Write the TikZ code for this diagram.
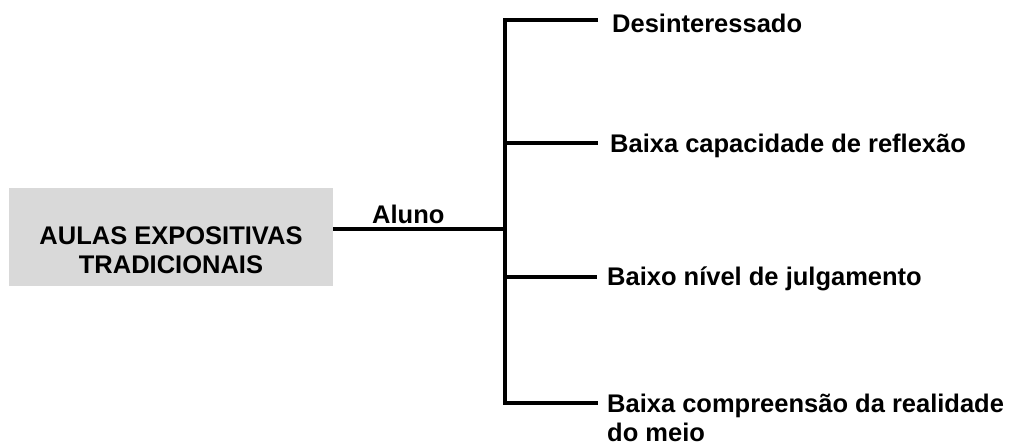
\documentclass[tikz,border=0pt]{standalone}
\usepackage{fontspec}
\setmainfont{Liberation Sans}
\definecolor{boxgray}{HTML}{D9D9D9}
\begin{document}
\begin{tikzpicture}[x=1pt,y=-1pt,
  conn/.style={line width=4.5pt, black},
  txt/.style={inner sep=0pt, font=\fontsize{25.5}{29}\selectfont\bfseries},
  lbl/.style={txt, anchor=base west},
  boxstyle/.style={fill=boxgray, draw=none, minimum width=324pt, minimum height=98pt, inner sep=0pt, anchor=north west}]
\useasboundingbox (0,0) rectangle (1029,445);
\node[boxstyle] (box) at (9,188) {};
\node[txt, align=center] (boxtext) at (171,250) {AULAS EXPOSITIVAS\\TRADICIONAIS};
\node[lbl] (aluno) at (372,223) {Aluno};
\node[lbl] (n1) at (612,32) {Desinteressado};
\node[lbl] (n2) at (610,152) {Baixa capacidade de reflexão};
\node[lbl] (n3) at (607,285) {Baixo nível de julgamento};
\node[lbl, align=left] (n4) at (607,441) {Baixa compreensão da realidade\\do meio};
\coordinate (boxout) at (333,229);
\coordinate (tmid) at (505,229);
\coordinate (ttop) at (505,20);
\coordinate (tbot) at (505,403);
\coordinate (j2) at (505,143);
\coordinate (j3) at (505,277);
\coordinate (e1) at (598,20);
\coordinate (e2) at (598,143);
\coordinate (e3) at (597,277);
\coordinate (e4) at (598,403);
\draw[conn] (boxout) -- (tmid);
\draw[conn] (e1) -- (ttop) -- (tbot) -- (e4);
\draw[conn] (j2) -- (e2);
\draw[conn] (j3) -- (e3);
\end{tikzpicture}
\end{document}
